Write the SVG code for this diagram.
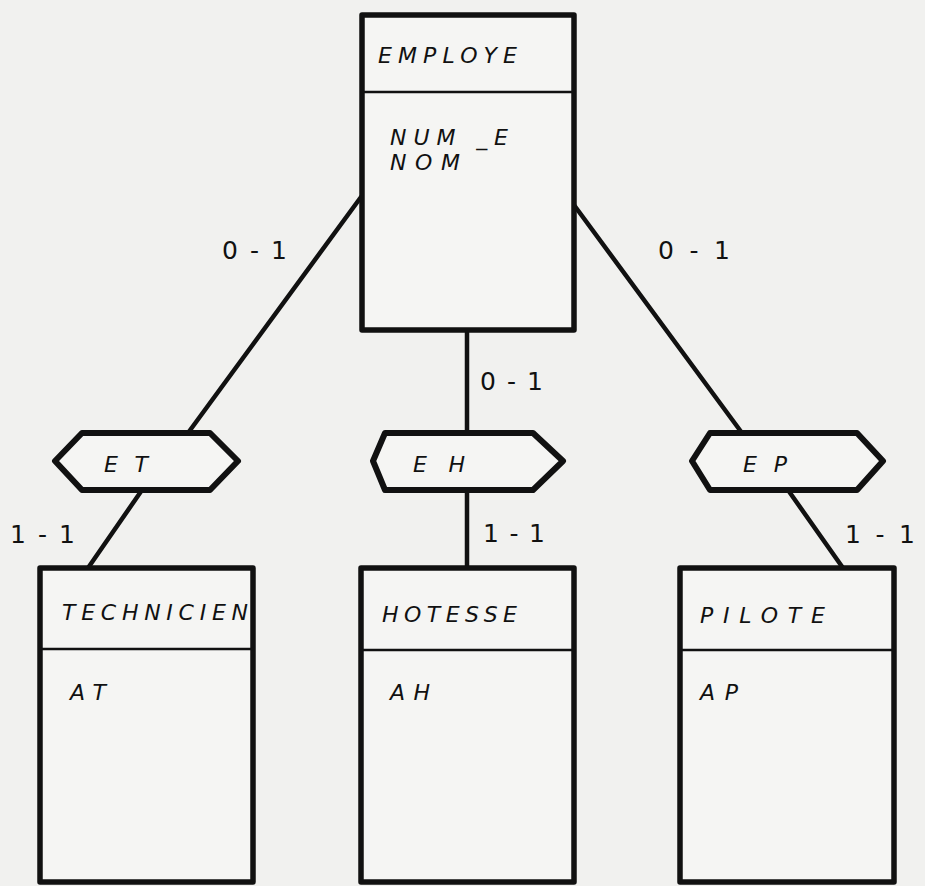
<svg xmlns="http://www.w3.org/2000/svg" width="925" height="886" viewBox="0 0 925 886">
<style>
.bg{fill:#f1f1ef}
.box{fill:#f5f5f3;stroke:#111;stroke-width:5.5;stroke-linejoin:round}
.div{stroke:#111;stroke-width:2.5}
.hex{fill:#f5f5f3;stroke:#111;stroke-width:6;stroke-linejoin:round}
.conn line{stroke:#111;stroke-width:4.5;stroke-linecap:round}
.name{font-family:"DejaVu Sans","Liberation Sans",sans-serif;font-style:italic;font-size:22px;fill:#111}
.attr{font-family:"DejaVu Sans","Liberation Sans",sans-serif;font-style:italic;font-size:22px;fill:#111}
.card{font-family:"DejaVu Sans","Liberation Sans",sans-serif;font-size:25px;fill:#111}
</style>
<rect class="bg" x="0" y="0" width="925" height="886"/>
<g id="connectors" class="conn">
<line x1="361" y1="197" x2="188" y2="433"/>
<line x1="574" y1="205" x2="742" y2="433"/>
<line x1="467" y1="330" x2="467" y2="568"/>
<line x1="142" y1="490" x2="88" y2="568"/>
<line x1="788" y1="490" x2="843" y2="568"/>
</g>
<g id="employe">
<rect class="box" x="362" y="15" width="212" height="315"/>
<line class="div" x1="362" y1="92" x2="574" y2="92"/>
<text class="name" x="378" y="63" textLength="139" lengthAdjust="spacing">EMPLOYE</text>
<text class="attr" x="390" y="145" textLength="118" lengthAdjust="spacing">NUM _E</text>
<text class="attr" x="390" y="170" textLength="70" lengthAdjust="spacing">NOM</text>
</g>
<g id="et">
<polygon class="hex" points="55,461 82,433 210,433 238,461 210,490 82,490"/>
<text class="attr" x="104" y="472" textLength="44" lengthAdjust="spacing">ET</text>
</g>
<g id="eh">
<polygon class="hex" points="373,461 385,433 533,433 563,461 533,490 385,490"/>
<text class="attr" x="413" y="472" textLength="52" lengthAdjust="spacing">EH</text>
</g>
<g id="ep">
<polygon class="hex" points="692,461 710,433 857,433 883,461 857,490 710,490"/>
<text class="attr" x="743" y="472" textLength="44" lengthAdjust="spacing">EP</text>
</g>
<g id="technicien">
<rect class="box" x="40" y="568" width="213" height="314"/>
<line class="div" x1="40" y1="649" x2="253" y2="649"/>
<text class="name" x="62" y="620" textLength="186" lengthAdjust="spacing">TECHNICIEN</text>
<text class="attr" x="70" y="700" textLength="36" lengthAdjust="spacing">AT</text>
</g>
<g id="hotesse">
<rect class="box" x="361" y="568" width="213" height="314"/>
<line class="div" x1="361" y1="650" x2="574" y2="650"/>
<text class="name" x="382" y="622" textLength="135" lengthAdjust="spacing">HOTESSE</text>
<text class="attr" x="390" y="700" textLength="40" lengthAdjust="spacing">AH</text>
</g>
<g id="pilote">
<rect class="box" x="680" y="568" width="214" height="314"/>
<line class="div" x1="680" y1="650" x2="894" y2="650"/>
<text class="name" x="700" y="623" textLength="125" lengthAdjust="spacing">PILOTE</text>
<text class="attr" x="700" y="700" textLength="38" lengthAdjust="spacing">AP</text>
</g>
<g id="cardinalities">
<text class="card" x="222" y="259" textLength="65" lengthAdjust="spacing">0-1</text>
<text class="card" x="658" y="259" textLength="72" lengthAdjust="spacing">0-1</text>
<text class="card" x="480" y="390" textLength="63" lengthAdjust="spacing">0-1</text>
<text class="card" x="10" y="543" textLength="65" lengthAdjust="spacing">1-1</text>
<text class="card" x="483" y="542" textLength="62" lengthAdjust="spacing">1-1</text>
<text class="card" x="845" y="543" textLength="70" lengthAdjust="spacing">1-1</text>
</g>
</svg>
